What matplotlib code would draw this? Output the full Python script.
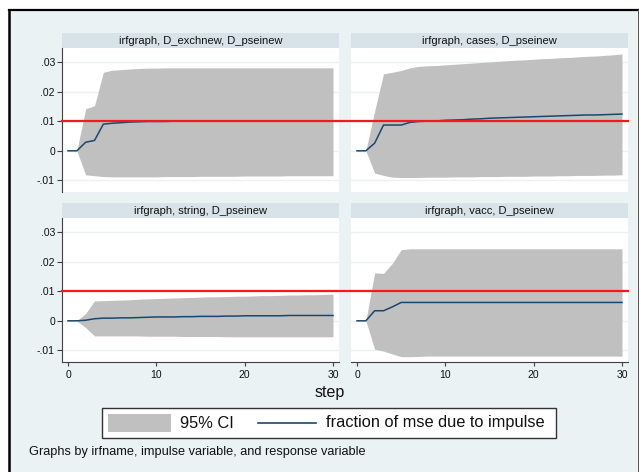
import numpy as np
from matplotlib import pyplot as plt
from matplotlib.patches import Rectangle
from matplotlib.lines import Line2D
from matplotlib.transforms import blended_transform_factory

plt.rcParams['font.family'] = ['Liberation Sans', 'DejaVu Sans']

# data, steps 0..30
steps = list(range(31))

exch_fmse = [0, 0, .0029, .0035, .0090, .0093, .0095, .0097, .0098, .0099,
             .0099, .0099, .0100, .0100, .0100, .0100, .0100, .0100, .0100, .0100,
             .0100, .0100, .0100, .0100, .0100, .0100, .0100, .0100, .0100, .0100, .0100]
exch_lo = [0, 0, -.0081, -.0084, -.0087, -.0088, -.0088, -.0088, -.0088, -.0088,
           -.0088, -.0087, -.0087, -.0087, -.0087, -.0086, -.0086, -.0086, -.0086, -.0086,
           -.0085, -.0085, -.0085, -.0085, -.0085, -.0084, -.0084, -.0084, -.0084, -.0084, -.0084]
exch_hi = [0, 0, .0142, .0152, .0265, .0272, .0274, .0276, .0278, .0279,
           .0279, .0280, .0280, .0280, .0280, .0280, .0280, .0280, .0280, .0280,
           .0280, .0280, .0280, .0280, .0280, .0280, .0280, .0280, .0280, .0280, .0280]

cases_fmse = [0, 0, .0026, .0087, .0087, .0087, .0096, .0099, .0100, .0101,
              .0103, .0104, .0105, .0107, .0108, .0110, .0111, .0112, .0113, .0114,
              .0115, .0116, .0117, .0118, .0119, .0120, .0121, .0121, .0122, .0123, .0124]
cases_lo = [0, 0, -.0075, -.0083, -.0089, -.0090, -.0090, -.0090, -.0089, -.0089,
            -.0089, -.0088, -.0088, -.0088, -.0087, -.0087, -.0087, -.0086, -.0086, -.0086,
            -.0085, -.0085, -.0085, -.0084, -.0084, -.0083, -.0083, -.0083, -.0082, -.0082, -.0081]
cases_hi = [0, 0, .0135, .0260, .0265, .0271, .0280, .0285, .0287, .0288,
            .0290, .0292, .0294, .0296, .0298, .0300, .0302, .0304, .0306, .0307,
            .0309, .0311, .0312, .0314, .0315, .0317, .0319, .0320, .0322, .0324, .0327]

string_fmse = [0, 0, .0002, .0007, .0009, .0009, .0010, .0010, .0011, .0012,
               .0013, .0013, .0013, .0014, .0014, .0015, .0015, .0015, .0016, .0016,
               .0017, .0017, .0017, .0017, .0017, .0018, .0018, .0018, .0018, .0018, .0018]
string_lo = [0, 0, -.0023, -.0051, -.0051, -.0051, -.0051, -.0051, -.0051, -.0052,
             -.0052, -.0052, -.0052, -.0053, -.0053, -.0053, -.0053, -.0053, -.0054, -.0054,
             -.0054, -.0054, -.0054, -.0054, -.0054, -.0054, -.0054, -.0054, -.0054, -.0054, -.0054]
string_hi = [0, 0, .0025, .0067, .0068, .0069, .0070, .0071, .0073, .0074,
             .0075, .0076, .0077, .0078, .0079, .0080, .0081, .0081, .0082, .0083,
             .0083, .0084, .0085, .0085, .0086, .0087, .0087, .0088, .0088, .0089, .0090]

vacc_fmse = [0, 0, .0034, .0034, .0047, .0062, .0062, .0062, .0062, .0062,
             .0062, .0062, .0062, .0062, .0062, .0062, .0062, .0062, .0062, .0062,
             .0062, .0062, .0062, .0062, .0062, .0062, .0062, .0062, .0062, .0062, .0062]
vacc_lo = [0, 0, -.0096, -.0102, -.0112, -.0121, -.0121, -.0120, -.0119, -.0119,
           -.0119, -.0119, -.0119, -.0119, -.0119, -.0119, -.0119, -.0119, -.0119, -.0119,
           -.0119, -.0119, -.0119, -.0119, -.0119, -.0119, -.0119, -.0119, -.0119, -.0119, -.0119]
vacc_hi = [0, 0, .0162, .0160, .0194, .0240, .0243, .0243, .0243, .0243,
           .0243, .0243, .0243, .0243, .0243, .0243, .0243, .0243, .0243, .0243,
           .0243, .0243, .0243, .0243, .0243, .0243, .0243, .0243, .0243, .0243, .0243]

titles = ["irfgraph, D_exchnew, D_pseinew", "irfgraph, cases, D_pseinew",
          "irfgraph, string, D_pseinew", "irfgraph, vacc, D_pseinew"]
ytick_vals = [-.01, 0, .01, .02, .03]
ytick_labels = ["-.01", "0", ".01", ".02", ".03"]
xtick_vals = [0, 10, 20, 30]
ref_level = .01

W, H = 639, 472
BG = '#eaf2f3'
STRIP = '#d7e3e9'
CI = '#c0c0c0'
NAVY = '#1a476f'
AXC = '#404040'


def box(x0, y0, x1, y1):
    # pixel box -> figure fraction [left, bottom, width, height]
    return [x0 / W, 1 - y1 / H, (x1 - x0) / W, (y1 - y0) / H]


fig = plt.figure(figsize=(W / 100, H / 100), dpi=100, facecolor='white')

# graph region + frame
fig.add_artist(Rectangle((9 / W, 0), (637 - 9) / W, 1 - 10 / H, transform=fig.transFigure,
                         facecolor=BG, edgecolor='none', zorder=-5))
fig.add_artist(Line2D([9 / W, 1], [1 - 10 / H, 1 - 10 / H], transform=fig.transFigure, color='k', lw=1.6))
fig.add_artist(Line2D([9 / W, 9 / W], [0, 1 - 10 / H], transform=fig.transFigure, color='k', lw=1.8))
fig.add_artist(Line2D([637.5 / W, 637.5 / W], [0, 1 - 10 / H], transform=fig.transFigure, color='#555555', lw=0.8))

panels = [
    (titles[0], exch_fmse, exch_lo, exch_hi, (62, 48, 339, 192), True, False),
    (titles[1], cases_fmse, cases_lo, cases_hi, (351, 48, 628, 192), False, False),
    (titles[2], string_fmse, string_lo, string_hi, (62, 218, 339, 362), True, True),
    (titles[3], vacc_fmse, vacc_lo, vacc_hi, (351, 218, 628, 362), False, True),
]

axes = []
for title, fmse, lo, hi, (x0, y0, x1, y1), show_y, show_x in panels:
    ax = fig.add_axes(box(x0, y0, x1, y1))
    ax.set_facecolor('white')
    ax.fill_between(steps, lo, hi, color=CI, lw=0, zorder=2)
    ax.plot(steps, fmse, color=NAVY, lw=1.1, zorder=3)
    ax.set_xlim(-0.68, 30.68)
    ax.set_ylim(-0.0139, 0.0347)
    ax.set_yticks(ytick_vals)
    ax.set_yticklabels(ytick_labels)
    ax.set_xticks(xtick_vals)
    ax.grid(axis='y', color=BG, lw=1.0)
    ax.set_axisbelow(True)
    for s in ['top', 'right', 'left', 'bottom']:
        ax.spines[s].set_visible(False)
    ax.tick_params(axis='both', labelsize=7.5, color=AXC, labelcolor='#111111', width=0.8)
    ax.tick_params(axis='y', length=3.6, pad=1.5)
    ax.tick_params(axis='x', length=3.0, pad=2.5)
    if show_y:
        ax.spines['left'].set_visible(True)
        ax.spines['left'].set_color(AXC)
        ax.spines['left'].set_linewidth(0.8)
    else:
        ax.tick_params(axis='y', left=False, labelleft=False)
    if show_x:
        ax.spines['bottom'].set_visible(True)
        ax.spines['bottom'].set_color(AXC)
        ax.spines['bottom'].set_linewidth(0.8)
    else:
        ax.tick_params(axis='x', bottom=False, labelbottom=False)

    # title strip
    fig.add_artist(Rectangle((x0 / W, 1 - (y0) / H), (x1 - x0) / W, 15 / H, transform=fig.transFigure,
                             facecolor=STRIP, edgecolor='none', zorder=-1))
    fig.text((x0 + x1) / 2 / W, 1 - (y0 - 7.5) / H, title, ha='center', va='center',
             fontsize=8, color='#111111')
    axes.append(ax)

# red reference line across each row
for ax in (axes[0], axes[2]):
    tr = blended_transform_factory(fig.transFigure, ax.transData)
    fig.add_artist(Line2D([62 / W, 628 / W], [ref_level, ref_level], transform=tr,
                          color='#f21a1a', lw=1.6, zorder=5))

fig.text(330 / W, 1 - 393 / H, "step", ha='center', va='center', fontsize=11.5, color='#111111')

# legend
fig.add_artist(Rectangle((102 / W, 1 - 438 / H), (556 - 102) / W, 30 / H, transform=fig.transFigure,
                         facecolor='white', edgecolor='#333333', lw=1.0))
fig.add_artist(Rectangle((108 / W, 1 - 432 / H), 63 / W, 18 / H, transform=fig.transFigure,
                         facecolor=CI, edgecolor='none'))
fig.text(180 / W, 1 - 423 / H, "95% CI", ha='left', va='center', fontsize=11.8, color='#111111')
fig.add_artist(Line2D([258 / W, 316 / W], [1 - 423 / H, 1 - 423 / H], transform=fig.transFigure,
                      color=NAVY, lw=1.2))
fig.text(326 / W, 1 - 423 / H, "fraction of mse due to impulse", ha='left', va='center',
         fontsize=11.8, color='#111111')

fig.text(29 / W, 1 - 452 / H, "Graphs by irfname, impulse variable, and response variable",
         ha='left', va='center', fontsize=9.2, color='#111111')

fig.savefig('out.png', dpi=100)
